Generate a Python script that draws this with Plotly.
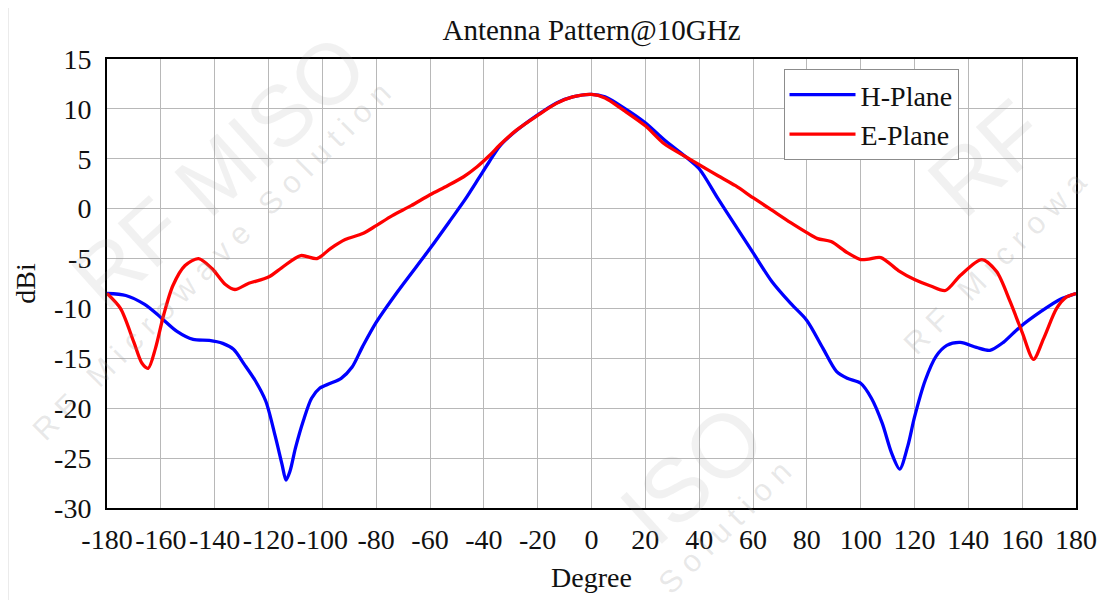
import plotly.graph_objects as go

# ---------------- data ----------------
h_deg = [-180, -173, -166, -160, -154, -148, -142, -137, -133, -129, -125, -121,
         -117.5, -115, -113.5, -112, -110, -107, -104, -101, -97, -93, -89, -85,
         -80, -72, -60, -52, -47, -42, -38, -34, -28, -20, -13, -7, 0, 5, 12, 20,
         27, 35, 40, 47, 53, 60, 67, 74, 80, 86, 91, 95, 100, 104, 108, 111.5,
         114.5, 117.5, 120, 124, 128, 132, 137, 143, 148, 153, 159, 167, 174, 180]
h_plane = [-8.5, -8.7, -9.6, -10.9, -12.3, -13.1, -13.2, -13.5, -14.1, -15.6, -17.2, -19.3,
           -22.8, -25.6, -27.2, -26.3, -24.0, -21.2, -19.0, -18.0, -17.5, -17.0, -15.9, -13.8,
           -11.4, -8.3, -4.0, -1.0, 0.9, 3.0, 4.7, 6.3, 7.8, 9.4, 10.6, 11.2, 11.45, 11.2, 10.1, 8.6,
           6.9, 5.2, 4.0, 1.0, -1.5, -4.4, -7.3, -9.5, -11.2, -14.0, -16.3, -17.0, -17.5, -19.0, -21.5, -24.5,
           -26.1, -23.8, -20.9, -17.2, -14.8, -13.7, -13.4, -13.9, -14.2, -13.4, -11.9, -10.3, -9.1, -8.5]

e_deg = [-180, -175, -170, -167, -164.7, -162, -159, -155.5, -151, -146, -141, -136,
         -132.5, -127.5, -120, -115, -108, -102, -97, -91.5, -85, -80, -74, -67, -60,
         -53.5, -47.5, -42.5, -38, -34, -28, -20, -13, -7, 0, 5, 12, 20, 27, 35, 40,
         47, 53.5, 60, 67, 74, 80, 84, 89, 95, 100, 103, 107.5, 114, 120, 126, 131.5,
         137, 145, 150.5, 155.5, 160, 164.2, 168, 172.8, 176.5, 180]
e_plane = [-8.5, -10.0, -13.4, -15.5, -16.0, -14.0, -10.7, -7.7, -5.7, -5.0, -6.0, -7.6,
           -8.1, -7.5, -6.85, -5.9, -4.7, -5.0, -4.0, -3.1, -2.5, -1.7, -0.7, 0.3, 1.4,
           2.3, 3.2, 4.2, 5.3, 6.4, 7.85, 9.35, 10.55, 11.2, 11.45, 11.1, 9.85, 8.3, 6.5, 5.2, 4.4,
           3.3, 2.3, 1.1, -0.15, -1.4, -2.4, -3.0, -3.3, -4.4, -5.1, -5.05, -4.9, -6.2, -7.1, -7.75, -8.2,
           -6.7, -5.1, -6.3, -9.3, -12.4, -15.1, -13.0, -10.0, -8.85, -8.5]

x_ticks = list(range(-180, 181, 20))
y_ticks = list(range(-30, 16, 5))

# watermark pieces: (text, window x, window y, angle, size)
wm_big = [("RF MISO", 220, 172, -42, 86),
          ("ISO", 696, 476, -42, 90),
          ("RF", 992, 158, -42, 90)]
wm_small = [("R F   M i c r o w a v e   S o l u t i o n", 212, 262, -45, 31),
            ("S o l u t i o n", 728, 530, -45, 31),
            ("R F   M i c r o w a", 1000, 263, -45, 31)]

FONT = "Liberation Serif"
W, H = 1101, 592          # page adds an 8 px body margin
PL, PR, PT, PB = 107, 1081, 59, 510   # plot box in window pixels


def px(X):
    return (X - PL) / (PR - PL)


def py(Y):
    return (PB - Y) / (PB - PT)


fig = go.Figure()
fig.add_trace(go.Scatter(x=h_deg, y=h_plane, mode="lines", name="H-Plane",
                         line=dict(color="#0000FF", width=3.3, shape="spline", smoothing=0.8)))
fig.add_trace(go.Scatter(x=e_deg, y=e_plane, mode="lines", name="E-Plane",
                         line=dict(color="#FF0000", width=3.3, shape="spline", smoothing=0.8)))

fig.update_layout(
    width=W, height=H,
    margin=dict(l=PL - 8, r=W - (PR - 8), t=PT - 8, b=H - (PB - 8)),
    paper_bgcolor="white", plot_bgcolor="white",
    font=dict(family=FONT, size=28, color="#111111"),
    title=dict(text="Antenna Pattern@10GHz", x=0.5, xref="paper", xanchor="center",
               y=1 - 22 / H, yanchor="middle", font=dict(family=FONT, size=29, color="#111111")),
    showlegend=True,
    legend=dict(x=px(787), y=py(69), xanchor="left", yanchor="top",
                bgcolor="white", bordercolor="#8c8c8c", borderwidth=1,
                font=dict(family=FONT, size=28, color="#111111"),
                itemwidth=66, tracegroupgap=0),
)

fig.update_xaxes(range=[-180, 180], tickmode="array", tickvals=x_ticks,
                 ticktext=[str(v) for v in x_ticks],
                 showgrid=True, gridcolor="#b8b8b8", gridwidth=1,
                 showline=True, linecolor="black", linewidth=2, mirror=True,
                 ticks="", zeroline=False, ticklabelstandoff=5,
                 title=dict(text="Degree", standoff=14, font=dict(family=FONT, size=28)))
fig.update_yaxes(range=[-30, 15], tickmode="array", tickvals=y_ticks,
                 ticktext=[str(v) for v in y_ticks],
                 showgrid=True, gridcolor="#b8b8b8", gridwidth=1,
                 showline=True, linecolor="black", linewidth=2, mirror=True,
                 ticks="", zeroline=False, ticklabelstandoff=8,
                 title=dict(text="dBi", standoff=10, font=dict(family=FONT, size=28)))

# light outer frame of the picture
fig.add_shape(type="rect", xref="paper", yref="paper",
              x0=px(7), x1=px(1125), y0=py(620), y1=py(4),
              line=dict(color="#d9d9d9", width=2), fillcolor="rgba(0,0,0,0)", layer="below")

# faint diagonal watermark
for txt, X, Y, ang, size in wm_big:
    fig.add_annotation(text=txt, x=px(X), y=py(Y), xref="paper", yref="paper",
                       showarrow=False, textangle=ang, xanchor="center", yanchor="middle",
                       font=dict(family="Liberation Sans", size=size, color="rgba(150,150,150,0.13)"))
for txt, X, Y, ang, size in wm_small:
    fig.add_annotation(text=txt, x=px(X), y=py(Y), xref="paper", yref="paper",
                       showarrow=False, textangle=ang, xanchor="center", yanchor="middle",
                       font=dict(family="Liberation Sans", size=size, color="rgba(150,150,150,0.22)"))

fig.write_html("out.html")
